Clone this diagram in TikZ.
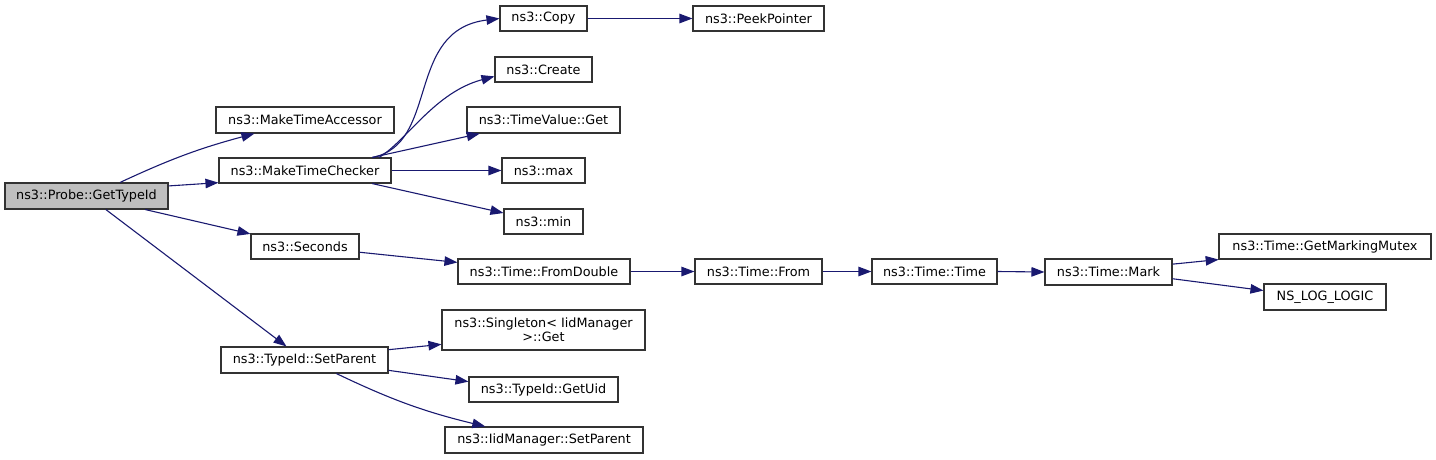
\documentclass[tikz,border=0pt]{standalone}
\usepackage{fontspec}
\setmainfont{DejaVu Sans}
\usetikzlibrary{arrows.meta}
\definecolor{edgec}{HTML}{191970}
\definecolor{boxg}{HTML}{BFBFBF}
\begin{document}
\begin{tikzpicture}[x=1pt,y=-1pt,
  fn/.style={draw=black!80, line width=1.1pt, inner sep=0pt, align=center,
    font=\fontsize{12.8}{14}\selectfont, text=black, fill=white},
  call/.style={draw=edgec, line width=1.1pt, -{Triangle[length=13pt,width=9.5pt]}, edgec},
]
\useasboundingbox (0,0) rectangle (1436,459);
\node[fn, minimum width=163pt, minimum height=26pt, fill=boxg] (gti) at (86.5,196) {ns3::Probe::GetTypeId};
\node[fn, minimum width=178pt, minimum height=26pt] (mta) at (305,120) {ns3::MakeTimeAccessor};
\node[fn, minimum width=172pt, minimum height=25pt] (mtc) at (305,170.5) {ns3::MakeTimeChecker};
\node[fn, minimum width=108pt, minimum height=25pt] (sec) at (305,246.5) {ns3::Seconds};
\node[fn, minimum width=167pt, minimum height=26pt] (tsp) at (304.5,360) {ns3::TypeId::SetParent};
\node[fn, minimum width=87pt, minimum height=25pt] (copy) at (543.5,18.5) {ns3::Copy};
\node[fn, minimum width=131pt, minimum height=25pt] (peek) at (758.5,18.5) {ns3::PeekPointer};
\node[fn, minimum width=97pt, minimum height=25pt] (create) at (543.5,69.5) {ns3::Create};
\node[fn, minimum width=153pt, minimum height=26pt] (tvg) at (543.5,120) {ns3::TimeValue::Get};
\node[fn, minimum width=83pt, minimum height=25pt] (max) at (543.5,170.5) {ns3::max};
\node[fn, minimum width=79pt, minimum height=25pt] (min) at (543.5,221.5) {ns3::min};
\node[fn, minimum width=172pt, minimum height=25pt] (fd) at (544,271.5) {ns3::Time::FromDouble};
\node[fn, minimum width=127pt, minimum height=25pt] (from) at (758.5,271.5) {ns3::Time::From};
\node[fn, minimum width=125pt, minimum height=25pt] (time) at (934.5,271.5) {ns3::Time::Time};
\node[fn, minimum width=127pt, minimum height=26pt] (mark) at (1108.5,272) {ns3::Time::Mark};
\node[fn, minimum width=212pt, minimum height=25pt] (gmm) at (1325,246.5) {ns3::Time::GetMarkingMutex};
\node[fn, minimum width=122pt, minimum height=26pt] (nll) at (1325,297) {NS\_LOG\_LOGIC};
\node[fn, minimum width=203pt, minimum height=40pt] (sing) at (543.5,330) {ns3::Singleton< IidManager\\ >::Get};
\node[fn, minimum width=149pt, minimum height=25pt] (uid) at (543.5,389.5) {ns3::TypeId::GetUid};
\node[fn, minimum width=198pt, minimum height=26pt] (iid) at (544,440) {ns3::IidManager::SetParent};

\draw[call] (gti.22) to[bend left=5] (mta.195);
\draw[call] (gti.7) -- (mtc.188);
\draw[call] (gti.-13) -- (sec.167);
\draw[call] (gti.-35) -- (tsp.143);
\draw[call] (mtc.11) .. controls +(68,-13) and +(-95,11.5) .. (copy.west);
\draw[call] (mtc.10) .. controls +(28,-17) and +(-60,16) .. (create.188);
\draw[call] (mtc.11) -- (tvg.192);
\draw[call] (mtc.east) -- (max.west);
\draw[call] (mtc.-11) -- (min.168);
\draw[call] (copy.east) -- (peek.west);
\draw[call] (sec.-6) -- (fd.174);
\draw[call] (fd.east) -- (from.west);
\draw[call] (from.east) -- (time.west);
\draw[call] (time.east) -- (mark.west);
\draw[call] (mark.7) -- (gmm.187);
\draw[call] (mark.-6) -- (nll.174);
\draw[call] (tsp.7.5) -- (sing.188);
\draw[call] (tsp.-7) -- (uid.174);
\draw[call] (tsp.-23) to[bend right=6] (iid.167);
\end{tikzpicture}
\end{document}
